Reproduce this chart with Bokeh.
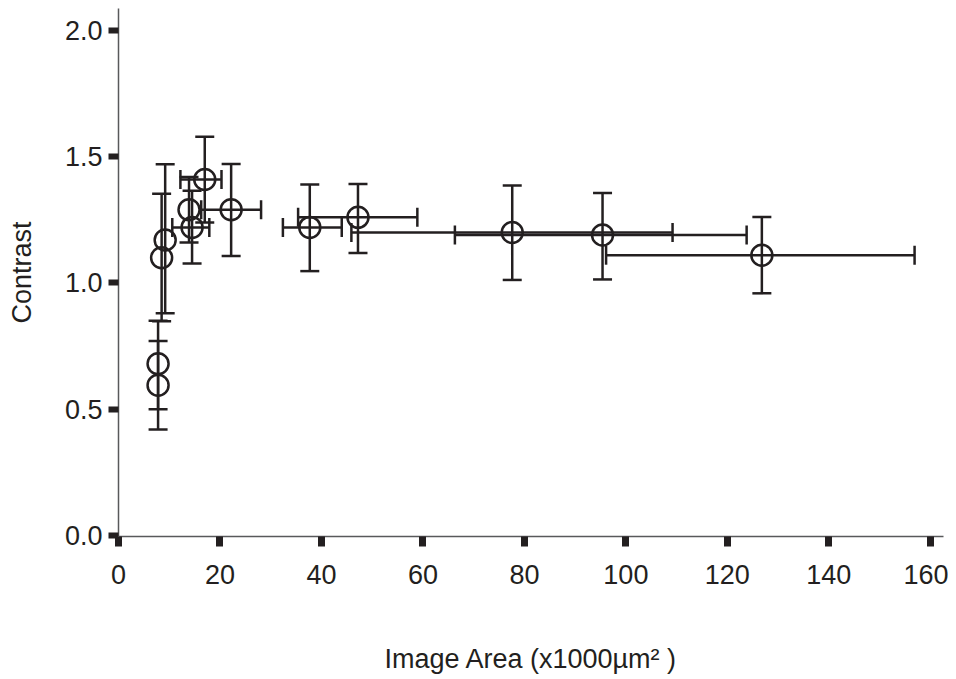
from bokeh.plotting import figure
from bokeh.models import ColumnDataSource, Whisker, TeeHead, FixedTicker, PrintfTickFormatter, Range1d
from bokeh.embed import file_html
from bokeh.resources import INLINE

# data
area = [7.8, 7.8, 8.5, 9.2, 14.5, 13.9, 17.0, 22.2, 37.7, 47.2, 77.6, 95.4, 126.8]
contrast = [0.595, 0.68, 1.10, 1.17, 1.22, 1.29, 1.41, 1.29, 1.22, 1.26, 1.20, 1.19, 1.11]
contrast_lo = [0.42, 0.50, 0.848, 0.88, 1.077, 1.16, 1.24, 1.107, 1.047, 1.119, 1.012, 1.014, 0.959]
contrast_hi = [0.77, 0.85, 1.353, 1.47, 1.365, 1.42, 1.579, 1.471, 1.39, 1.392, 1.386, 1.356, 1.261]
area_lo = [None, None, None, None, 10.6, None, 12.2, 16.3, 32.4, 35.4, 45.9, 66.3, 96.1]
area_hi = [None, None, None, None, 17.9, None, 20.3, 28.1, 44.0, 58.9, 109.2, 123.8, 156.9]

x_ticks = [0, 20, 40, 60, 80, 100, 120, 140, 160]
y_ticks = [0.0, 0.5, 1.0, 1.5, 2.0]

INK = "#231f20"
FONT = "Liberation Sans"
LW = 2.5

p = figure(width=948, height=676, output_backend="svg", toolbar_location=None,
           x_range=Range1d(0, 162.6), y_range=Range1d(-0.004, 2.087),
           min_border_left=118, min_border_right=5, min_border_top=8, min_border_bottom=138)
p.outline_line_color = None
p.xgrid.grid_line_color = None
p.ygrid.grid_line_color = None

src = ColumnDataSource(dict(x=area, y=contrast, lo=contrast_lo, hi=contrast_hi))
idx = [i for i, v in enumerate(area_lo) if v is not None]
hsrc = ColumnDataSource(dict(y=[contrast[i] for i in idx],
                             lo=[area_lo[i] for i in idx],
                             hi=[area_hi[i] for i in idx]))

vw = Whisker(source=src, base="x", lower="lo", upper="hi", dimension="height",
             line_color=INK, line_width=LW,
             upper_head=TeeHead(size=19, line_color=INK, line_width=LW),
             lower_head=TeeHead(size=19, line_color=INK, line_width=LW))
hw = Whisker(source=hsrc, base="y", lower="lo", upper="hi", dimension="width",
             line_color=INK, line_width=LW,
             upper_head=TeeHead(size=19, line_color=INK, line_width=LW),
             lower_head=TeeHead(size=19, line_color=INK, line_width=LW))
p.add_layout(vw)
p.add_layout(hw)

p.scatter("x", "y", source=src, marker="circle", size=21, fill_color=None,
          line_color=INK, line_width=LW)

for ax in (p.xaxis[0], p.yaxis[0]):
    ax.axis_line_color = "#58595b"
    ax.axis_line_width = 1.5
    ax.major_tick_line_color = INK
    ax.major_tick_in = 0
    ax.major_tick_out = 10
    ax.minor_tick_line_color = None
    ax.major_label_text_font = FONT
    ax.major_label_text_font_size = "27px"
    ax.major_label_text_color = INK
    ax.axis_label_text_font = FONT
    ax.axis_label_text_font_size = "27px"
    ax.axis_label_text_color = INK
    ax.axis_label_text_font_style = "normal"

p.xaxis.ticker = FixedTicker(ticks=x_ticks)
p.yaxis.ticker = FixedTicker(ticks=y_ticks)
p.yaxis.formatter = PrintfTickFormatter(format="%.1f")
p.xaxis.major_tick_line_width = 7
p.yaxis.major_tick_line_width = 6
p.xaxis.major_label_standoff = 18
p.yaxis.major_label_standoff = 6
p.xaxis.axis_label = "Image Area (x1000µm² )"
p.yaxis.axis_label = "Contrast"
p.xaxis.axis_label_standoff = 57
p.yaxis.axis_label_standoff = 25

open("out.html", "w").write(file_html(p, INLINE))
